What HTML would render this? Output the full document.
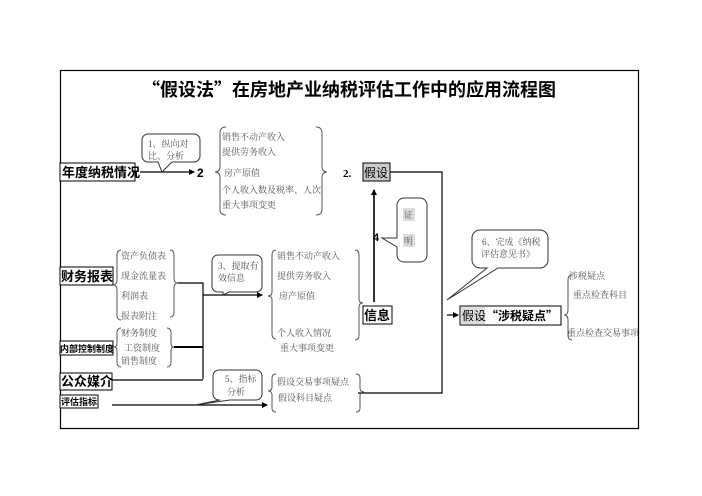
<!DOCTYPE html>
<html><head><meta charset="utf-8"><style>
html,body{margin:0;padding:0;background:#fff}
svg{display:block}
.t{font-family:"Liberation Serif","Noto Serif CJK SC",serif;font-size:9px;fill:#555}
.b{font-family:"Liberation Sans","Noto Sans CJK SC",sans-serif;font-weight:bold;fill:#000}
.c{font-family:"Noto Sans CJK SC",sans-serif}
.br{fill:none;stroke:#555;stroke-width:1}
.ln{stroke:#000;stroke-width:1.2;fill:none}
.co{fill:#fff;stroke:#333;stroke-width:1}
</style></head><body>
<svg width="702" height="496" viewBox="0 0 702 496">
<defs><marker id="a" markerWidth="6" markerHeight="6" refX="5" refY="3" orient="auto" markerUnits="userSpaceOnUse"><path d="M0,0 L6,3 L0,6z" fill="#000"/></marker></defs>
<rect x="60.5" y="70.5" width="578" height="358" fill="none" stroke="#000" stroke-width="1.2"/>
<text x="349" y="96" text-anchor="middle" class="b c" font-size="18">“假设法”在房地产业纳税评估工作中的应用流程图</text>

<!-- row 1 -->
<rect x="60" y="163" width="75" height="18" fill="#fff" stroke="#000"/>
<text x="62" y="177" class="b" font-size="13">年度纳税情况</text>
<line x1="140" y1="172" x2="194" y2="172" class="ln" marker-end="url(#a)"/>
<text x="197" y="177" class="b" font-size="12">2</text>
<path class="co" d="M148,134 h46 a6,6 0 0 1 6,6 v16 a6,6 0 0 1 -6,6 h-22 l-10,10 l-4,-10 h-10 a6,6 0 0 1 -6,-6 v-16 a6,6 0 0 1 6,-6z"/>
<text x="148" y="147" class="t">1、纵向对</text><text x="148" y="159" class="t">比、分析</text>
<path class="br" d="M226,127 q-6,0 -6,6 v33 q0,6 -5,6 q5,0 5,6 v31 q0,6 6,6"/>
<path class="br" d="M316,127 q6,0 6,6 v33 q0,6 5,6 q-5,0 -5,6 v31 q0,6 -6,6"/>
<text x="222" y="140" class="t">销售不动产收入</text>
<text x="222" y="155" class="t">提供劳务收入</text>
<text x="224" y="176" class="t">房产原值</text>
<text x="222" y="193" class="t">个人收入数及税率、人次</text>
<text x="222" y="208" class="t">重大事项变更</text>
<text x="343" y="177" class="b" font-size="11" style="font-family:'Liberation Serif',serif">2.</text>
<rect x="363" y="163" width="27" height="18" fill="#ccc" stroke="#000"/>
<text x="364" y="177" class="b" font-size="12" style="font-weight:normal">假设</text>
<polyline points="390,172 442,172 442,393 358,393" class="ln"/>

<!-- vertical arrow -->
<line x1="374" y1="302" x2="374" y2="190" stroke="#333" stroke-width="2" marker-end="url(#a)"/>
<text x="373" y="241" class="b" font-size="11">4</text>
<path class="co" d="M404,198 h16 a7,7 0 0 1 7,7 v50 a7,7 0 0 1 -7,7 h-16 a7,7 0 0 1 -7,-7 v-8 l-15,-9 l15,0 v-33 a7,7 0 0 1 7,-7z"/>
<rect x="403" y="208" width="12" height="13" fill="#ddd"/><rect x="403" y="234" width="12" height="13" fill="#ddd"/>
<text x="404" y="218" class="t" font-size="10">证</text>
<text x="404" y="244" class="t" font-size="10">明</text>
<rect x="363" y="306" width="29" height="18" fill="#fff" stroke="#000"/>
<text x="364" y="320" class="b" font-size="13">信息</text>

<line x1="447" y1="315" x2="458" y2="315" class="ln" marker-end="url(#a)"/>
<rect x="460" y="306" width="101" height="19" fill="#fff" stroke="#000"/>
<rect x="461" y="307" width="24" height="17" fill="#ddd"/>
<text x="462" y="320" class="b c" font-size="12" style="font-weight:normal">假设<tspan font-weight="bold">“涉税疑点”</tspan></text>
<path class="co" d="M480,230 h60 a8,8 0 0 1 8,8 v22 a8,8 0 0 1 -8,8 h-42 l-51,32 l40,-32 h-7 a8,8 0 0 1 -8,-8 v-22 a8,8 0 0 1 8,-8z"/>
<text x="482" y="245" class="t">6、完成《纳税</text><text x="481" y="257" class="t">评估意见书》</text>
<path class="br" d="M572,275 q-4,0 -4,5 v30 q0,5 -4,5 q4,0 4,5 v15 q0,5 4,5"/>
<text x="569" y="279" class="t">涉税疑点</text>
<text x="573" y="298" class="t">重点检查科目</text>
<text x="567" y="336" class="t">重点检查交易事项</text>

<!-- left group -->
<rect x="60" y="267" width="53" height="18" fill="#fff" stroke="#000"/>
<text x="61" y="281" class="b" font-size="13">财务报表</text>
<path class="br" d="M121,250 q-4,0 -4,5 v25 q0,5 -4,5 q4,0 4,5 v25 q0,5 4,5"/>
<path class="br" d="M170,250 q4,0 4,5 v23 q0,5 4,5 q-4,0 -4,5 v24 q0,5 -4,5"/>
<text x="121" y="259" class="t">资产负债表</text>
<text x="121" y="279" class="t">现金流量表</text>
<text x="121" y="299" class="t">利润表</text>
<text x="121" y="319" class="t">报表附注</text>
<polyline points="178,283 203,283 203,379" class="ln"/>
<line x1="203" y1="295" x2="262" y2="295" class="ln" stroke-width="1.6" marker-end="url(#a)"/>
<path class="co" d="M218,255 h38 a6,6 0 0 1 6,6 v25 a6,6 0 0 1 -6,6 h-27 l-6,3 l0,-3 h-5 a6,6 0 0 1 -6,-6 v-25 a6,6 0 0 1 6,-6z"/>
<text x="218" y="269" class="t">3、提取有</text><text x="218" y="281" class="t">效信息</text>

<rect x="60" y="341" width="53" height="14" fill="#fff" stroke="#000"/>
<text x="60" y="352" class="b" font-size="9">内部控制制度</text>
<path class="br" d="M121,328 q-4,0 -4,5 v10 q0,4 -3,4 q3,0 3,4 v11 q0,5 4,5"/>
<path class="br" d="M167,328 q4,0 4,5 v10 q0,4 3,4 q-3,0 -3,4 v11 q0,5 -4,5"/>
<text x="121" y="336" class="t">财务制度</text>
<text x="124" y="351" class="t">工资制度</text>
<text x="121" y="364" class="t">销售制度</text>
<line x1="174" y1="347" x2="203" y2="347" stroke="#000" stroke-width="2"/>

<rect x="60" y="373" width="52" height="17" fill="#fff" stroke="#000"/>
<text x="61" y="386" class="b" font-size="13">公众媒介</text>
<line x1="112" y1="380" x2="203" y2="380" class="ln"/>

<rect x="60" y="395" width="38" height="13" fill="#fff" stroke="#000"/>
<text x="61" y="405" class="b" font-size="9">评估指标</text>
<line x1="112" y1="405" x2="267" y2="405" class="ln" marker-end="url(#a)"/>
<path class="co" d="M225,370 h31 a6,6 0 0 1 6,6 v18 a6,6 0 0 1 -6,6 h-26 l-35,5 l25,-5 a6,6 0 0 1 -1,0 a6,6 0 0 1 -6,-6 v-18 a6,6 0 0 1 6,-6z"/>
<text x="225" y="382" class="t">5、指标</text><text x="227" y="395" class="t">分析</text>

<!-- middle braces -->
<path class="br" d="M276,250 q-4,0 -4,5 v37 q0,4 -4,4 q4,0 4,4 v34 q0,5 4,5"/>
<path class="br" d="M355,250 q4,0 4,5 v44 q0,4 4,4 q-4,0 -4,4 v28 q0,5 -4,5"/>
<text x="277" y="259" class="t">销售不动产收入</text>
<text x="277" y="279" class="t">提供劳务收入</text>
<text x="279" y="299" class="t">房产原值</text>
<text x="277" y="336" class="t">个人收入情况</text>
<text x="280" y="351" class="t">重大事项变更</text>

<path class="br" d="M276,374 q-4,0 -4,4 v9 q0,4 -4,4 q4,0 4,4 v13 q0,4 4,4"/>
<path class="br" d="M356,374 q4,0 4,4 v10 q0,4 4,4 q-4,0 -4,4 v12 q0,4 -4,4"/>
<text x="277" y="385" class="t">假设交易事项疑点</text>
<text x="278" y="401" class="t">假设科目疑点</text>
</svg>
</body></html>
